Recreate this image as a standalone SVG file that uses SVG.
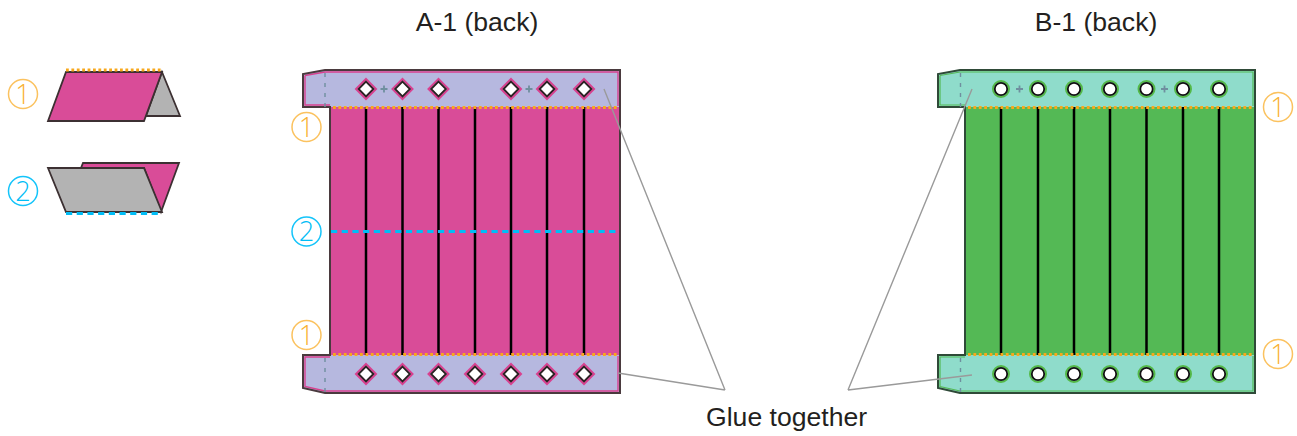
<svg xmlns="http://www.w3.org/2000/svg" xmlns:xlink="http://www.w3.org/1999/xlink" width="1297" height="436" viewBox="0 0 1297 436">
<style>
text{font-family:"Liberation Sans",Arial,sans-serif;fill:#231f20}
.title,.lab{font-size:26.6px}
.title{text-anchor:middle}
.num{font-size:27px;text-anchor:middle;font-family:"Open Sans","Liberation Sans",sans-serif;font-weight:300}
.o circle{fill:#fff;stroke:#fbc25f;stroke-width:1.5}.o text{fill:#f9b233}
.b circle{fill:#fff;stroke:#14c4fa;stroke-width:1.5}.b text{fill:#00bdf6}
.fold{fill:none;stroke:#f8a81c;stroke-width:3;stroke-dasharray:2.8 2.6}
.foldb{fill:none;stroke:#00bdf6;stroke-width:3;stroke-dasharray:6.200 4.500}
.cut{stroke:#000;stroke-width:2.500;fill:none}
.tick{fill:none;stroke:#6f8f9f;stroke-width:1.4;stroke-dasharray:4 6}
.dk{stroke:#3c3032;stroke-width:1.8;stroke-linejoin:miter}
.ptch{fill:#b6b8df}.gtch{fill:#8fdccb}
.dia{fill:#fff;stroke:#2b2022;stroke-width:1.8}
.diao{fill:none;stroke:#d9408f;stroke-width:2}
.hole{fill:#fff;stroke:#111;stroke-width:1.8}
.holeo{fill:none;stroke:#54b948;stroke-width:2}
.plus{stroke:#6f8f9f;stroke-width:1.8;fill:none}
.glue{stroke:#9a9a9a;stroke-width:1.4;fill:none}
</style>
<defs>
<g id="d"><path class="diao" d="M0-10 10 0 0 10-10 0Z"/><path class="dia" d="M0-7.400 7.400 0 0 7.400-7.400 0Z"/></g>
<g id="h"><circle class="holeo" r="8"/><circle class="hole" r="6.200"/></g>
<path id="p" class="plus" d="M-3.500 0H3.500M0-3.500V3.500"/>
</defs>
<text class="title" x="477" y="31">A-1 (back)</text>
<text class="title" x="1096" y="31">B-1 (back)</text>
<g id="icon-fold-1">
<path class="dk" fill="#b3b3b3" d="M162 72 180 116H146Z"/>
<path class="dk" fill="#d94c98" d="M66 72H162L144 121H48Z"/>
<path class="fold" d="M66 70H162"/>
<g class="o"><circle cx="23" cy="94" r="14.500"/><text class="num" x="23" y="103.500">1</text></g>
</g>
<g id="icon-fold-2">
<path class="dk" fill="#d94c98" d="M83 163H179L161 212 144 168H81Z"/>
<path class="dk" fill="#b3b3b3" d="M48 168H144L162 212H66Z"/>
<path class="foldb" d="M66 213.500H162"/>
<g class="b"><circle cx="23" cy="191" r="14.500"/><text class="num" x="23" y="200.500">2</text></g>
</g>
<g id="panel-a">
<path fill="#d94c98" d="M330 107H620V355H330Z"/>
<path class="ptch" d="M303 74 325 70H620V107H303Z"/>
<path class="ptch" d="M303 355H620V393H325L303 388Z"/>
<path fill="none" stroke="#d9408f" stroke-width="1.4" d="M305 75.500 325 72H618V106M618 356V391H325L305 386.500V357H330M305 75.500V105H330"/>
<path fill="none" stroke="#4a3a3e" stroke-width="2" d="M330 107V355H303V388L325 393H620V70H325L303 74V107Z"/>
<path class="cut" d="M366 107V355M402.500 107V355M438.500 107V355M475 107V355M511 107V355M547 107V355M584 107V355"/>
<path class="tick" d="M325 73V107M325 358V393"/>
<path class="fold" d="M333 107.500H618M333 354.500H618"/>
<path class="foldb" d="M331 231.500H618"/>
<use xlink:href="#d" x="366" y="89"/><use xlink:href="#d" x="402.500" y="89"/><use xlink:href="#d" x="438.500" y="89"/><use xlink:href="#d" x="511" y="89"/><use xlink:href="#d" x="547" y="89"/><use xlink:href="#d" x="584" y="89"/>
<use xlink:href="#p" x="384" y="89"/><use xlink:href="#p" x="529" y="89"/>
<use xlink:href="#d" x="366" y="374"/><use xlink:href="#d" x="402.500" y="374"/><use xlink:href="#d" x="438.500" y="374"/><use xlink:href="#d" x="475" y="374"/><use xlink:href="#d" x="511" y="374"/><use xlink:href="#d" x="547" y="374"/><use xlink:href="#d" x="584" y="374"/>
<g class="o"><circle cx="306.500" cy="127" r="14.500"/><text class="num" x="306.500" y="136.500">1</text></g>
<g class="b"><circle cx="306.500" cy="231.500" r="14.500"/><text class="num" x="306.500" y="241">2</text></g>
<g class="o"><circle cx="306.500" cy="335" r="14.500"/><text class="num" x="306.500" y="344.500">1</text></g>
</g>
<g id="panel-b">
<path fill="#54b955" d="M965 107H1255V355H965Z"/>
<path class="gtch" d="M938 74 960 70H1255V107H938Z"/>
<path class="gtch" d="M938 355H1255V393H960L938 388Z"/>
<path fill="none" stroke="#54b955" stroke-width="1.2" d="M940 75.500 960 72H1253V106M1253 356V391H960L940 386.500V357H965M940 75.500V105H965"/>
<path fill="none" stroke="#2f4a38" stroke-width="2" d="M965 107V355H938V388L960 393H1255V70H960L938 74V107Z"/>
<path class="cut" d="M1001 107V355M1038 107V355M1074 107V355M1110 107V355M1146.500 107V355M1183 107V355M1219 107V355"/>
<path class="tick" d="M960.500 73V107M960.500 358V393"/>
<path class="fold" d="M968 107.500H1253M968 354.500H1253"/>
<use xlink:href="#h" x="1001" y="89"/><use xlink:href="#h" x="1038" y="89"/><use xlink:href="#h" x="1074" y="89"/><use xlink:href="#h" x="1110" y="89"/><use xlink:href="#h" x="1146.500" y="89"/><use xlink:href="#h" x="1183" y="89"/><use xlink:href="#h" x="1219" y="89"/>
<use xlink:href="#p" x="1019.500" y="89"/><use xlink:href="#p" x="1164.500" y="89"/>
<use xlink:href="#h" x="1001" y="374"/><use xlink:href="#h" x="1038" y="374"/><use xlink:href="#h" x="1074" y="374"/><use xlink:href="#h" x="1110" y="374"/><use xlink:href="#h" x="1146.500" y="374"/><use xlink:href="#h" x="1183" y="374"/><use xlink:href="#h" x="1219" y="374"/>
<g class="o"><circle cx="1278" cy="107" r="14.500"/><text class="num" x="1278" y="116.500">1</text></g>
<g class="o"><circle cx="1278" cy="354" r="14.500"/><text class="num" x="1278" y="363.500">1</text></g>
</g>
<g id="connectors">
<path class="glue" d="M604 89 725 390M618 373 725 390M972 89 848 390M972 375 848 390"/>
</g>
<text class="lab" x="706" y="426">Glue together</text>
</svg>
